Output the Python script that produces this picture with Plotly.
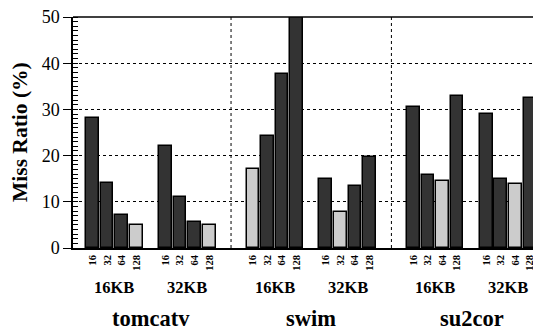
import numpy as np
import plotly.graph_objects as go

# ---------------- data ----------------
benchmarks = ["tomcatv", "swim", "su2cor"]
cache_sizes = ["16KB", "32KB"]
line_sizes = ["16", "32", "64", "128"]

tomcatv_16KB = [28.2, 14.1, 7.1, 5.0]
tomcatv_32KB = [22.1, 11.1, 5.7, 5.0]
swim_16KB = [17.1, 24.2, 37.7, 50.0]
swim_32KB = [15.0, 7.9, 13.4, 19.6]
su2cor_16KB = [30.5, 15.9, 14.5, 33.0]
su2cor_32KB = [28.9, 14.9, 13.8, 32.5]

series = {
    ("tomcatv", "16KB"): tomcatv_16KB,
    ("tomcatv", "32KB"): tomcatv_32KB,
    ("swim", "16KB"): swim_16KB,
    ("swim", "32KB"): swim_32KB,
    ("su2cor", "16KB"): su2cor_16KB,
    ("su2cor", "32KB"): su2cor_32KB,
}

DARK = "#333333"
LIGHT = "#cccccc"
FONT = "Liberation Serif"

# ---------------- layout of slots ----------------
BENCH_STEP = 11
GROUP_STEP = 5

xs, ys, colors, ticktext = [], [], [], []
group_centers, bench_centers = [], []
for b, bench in enumerate(benchmarks):
    bc = []
    for g, cs in enumerate(cache_sizes):
        vals = series[(bench, cs)]
        imin = int(np.argmin(vals))
        base = b * BENCH_STEP + g * GROUP_STEP
        for i, v in enumerate(vals):
            xs.append(base + i)
            ys.append(v)
            colors.append(LIGHT if i == imin else DARK)
            ticktext.append(line_sizes[i])
        group_centers.append((base + 1.5, cs))
        bc.append(base + 1.5)
    bench_centers.append((np.mean(bc), bench))

fig = go.Figure()
fig.add_trace(go.Bar(
    x=xs, y=ys, width=0.87,
    marker=dict(color=colors, line=dict(color="black", width=1.5)),
    showlegend=False, hoverinfo="skip",
))

OFF = 8  # page body margin
W, H = 541 - OFF, 329 - OFF
PLOT_L, PLOT_T, PLOT_B = 73, 17, 248  # target pixel positions in window
ML, MR, MT = PLOT_L - OFF, 0, PLOT_T - OFF
MB = H - (PLOT_B - OFF)

fig.update_layout(
    width=W, height=H,
    margin=dict(l=ML, r=MR, t=MT, b=MB, autoexpand=False),
    paper_bgcolor="white", plot_bgcolor="white",
    font=dict(family=FONT, color="black"),
    bargap=0,
    xaxis=dict(
        range=[-1.34, 30.76],
        tickmode="array", tickvals=xs, ticktext=ticktext,
        tickangle=-90,
        tickfont=dict(family=FONT, size=10.5, weight="bold"),
        ticks="", showgrid=False, zeroline=False,
        showline=True, linecolor="black", linewidth=1.5,
        ticklabelstandoff=1, automargin=False,
    ),
    yaxis=dict(
        range=[0, 50], dtick=10, tick0=0,
        ticks="outside", ticklen=8, tickwidth=1.2, tickcolor="black",
        tickfont=dict(family=FONT, size=18),
        ticklabeloverflow="allow",
        showgrid=True, gridcolor="black", griddash="dot", gridwidth=1,
        zeroline=False, automargin=False,
        showline=True, linecolor="black", linewidth=1.5,
        minor=dict(ticks="inside", dtick=1, ticklen=5, tickcolor="black",
                   tickwidth=1, showgrid=False),
    ),
    yaxis2=dict(
        range=[0, 50], dtick=10, overlaying="y", side="left",
        ticks="inside", ticklen=5, tickcolor="black", tickwidth=1.2,
        showticklabels=False, showgrid=False, zeroline=False, showline=False,
    ),
)

shapes = []
# top border
shapes.append(dict(type="line", xref="paper", yref="paper", x0=0, x1=1, y0=1, y1=1,
                   line=dict(color="black", width=1.5)))
# benchmark separators (midway between benchmarks)
for b in range(1, len(benchmarks)):
    xsep = (b - 1) * BENCH_STEP + GROUP_STEP + 3 + (BENCH_STEP - GROUP_STEP - 3) / 2
    shapes.append(dict(type="line", xref="x", yref="y", x0=xsep, x1=xsep, y0=0, y1=50,
                       line=dict(color="black", width=1, dash="dot"), layer="below"))
fig.update_layout(shapes=shapes)

ph = PLOT_B - PLOT_T
pw = 541 - PLOT_L
annotations = []
for xc, label in group_centers:
    annotations.append(dict(x=xc, xref="x", y=(PLOT_B - 287.5) / ph, yref="paper",
                            text=label, showarrow=False, xanchor="center", yanchor="middle",
                            font=dict(family=FONT, size=16.5, weight="bold")))
for xc, label in bench_centers:
    annotations.append(dict(x=xc, xref="x", y=(PLOT_B - 318) / ph, yref="paper",
                            text=label, showarrow=False, xanchor="center", yanchor="middle",
                            font=dict(family=FONT, size=22.5, weight="bold")))
annotations.append(dict(x=(19.5 - PLOT_L) / pw, xref="paper", y=(PLOT_B - 132.5) / ph, yref="paper",
                        text="Miss Ratio (%)", textangle=-90, showarrow=False,
                        xanchor="center", yanchor="middle",
                        font=dict(family=FONT, size=21.5, weight="bold")))
fig.update_layout(annotations=annotations)

fig.write_html("out.html")
